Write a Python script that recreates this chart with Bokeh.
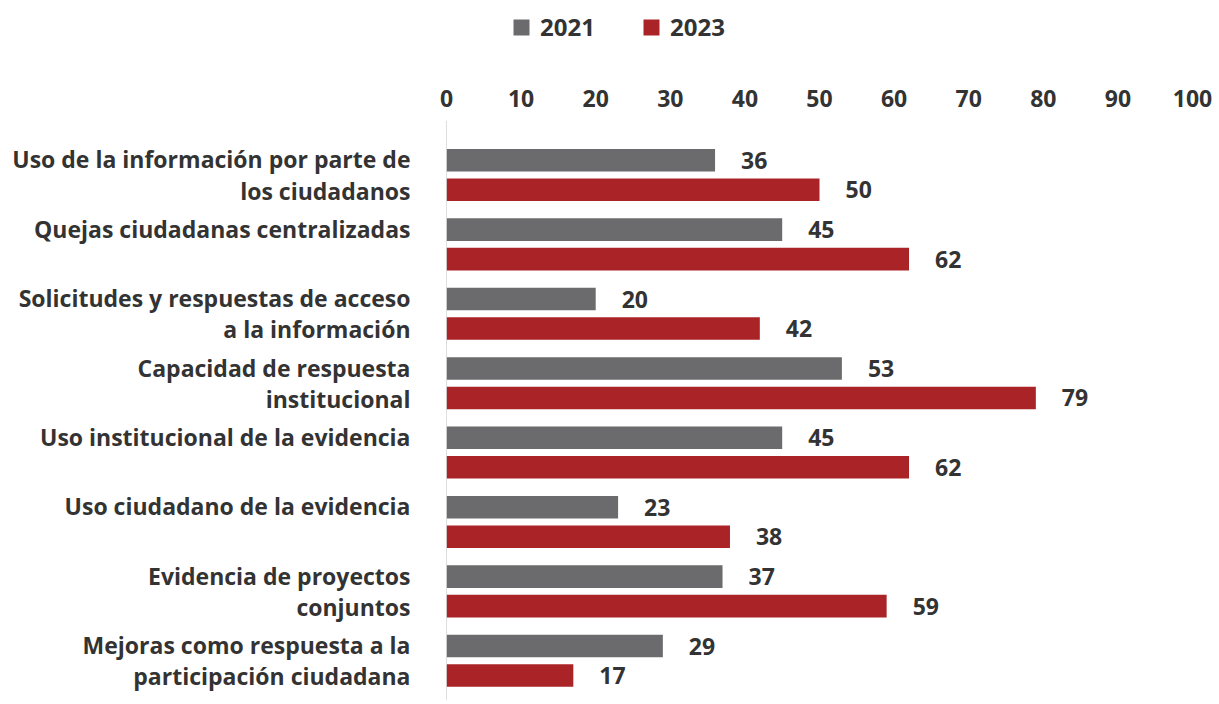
from bokeh.plotting import figure
from bokeh.layouts import column
from bokeh.models import (Range1d, FixedTicker, Span, Legend, LegendItem,
                          ColumnDataSource, LabelSet)
from bokeh.embed import file_html
from bokeh.resources import INLINE
from bokeh.core.properties import value

categories = [
    "Uso de la información por parte de\nlos ciudadanos",
    "Quejas ciudadanas centralizadas",
    "Solicitudes y respuestas de acceso\na la información",
    "Capacidad de respuesta\ninstitucional",
    "Uso institucional de la evidencia",
    "Uso ciudadano de la evidencia",
    "Evidencia de proyectos\nconjuntos",
    "Mejoras como respuesta a la\nparticipación ciudadana",
]
values_2021 = [36, 45, 20, 53, 45, 23, 37, 29]
values_2023 = [50, 62, 42, 79, 62, 38, 59, 17]
series_names = ["2021", "2023"]
x_ticks = [0, 10, 20, 30, 40, 50, 60, 70, 80, 90, 100]

GRAY = "#6b6b6d"
RED = "#aa2327"
TEXT = "#333333"
FONT = "Open Sans"

rows = list(range(len(categories)))
OFF = 0.2125
BAR_H = 0.325

W = 1215
LH = 80
MH = 620
LEFT = 446
RIGHT = 23

src_a = ColumnDataSource(dict(y=[r - OFF for r in rows], v=values_2021,
                              t=[str(v) for v in values_2021]))
src_b = ColumnDataSource(dict(y=[r + OFF for r in rows], v=values_2023,
                              t=[str(v) for v in values_2023]))

# ---------- legend strip ----------
lf = figure(width=W, height=LH, output_backend="svg", toolbar_location=None,
            x_axis_location=None, y_axis_location=None,
            x_range=Range1d(0, 1), y_range=Range1d(0, 1),
            min_border_left=LEFT, min_border_right=RIGHT,
            min_border_top=0, min_border_bottom=0)
lf.outline_line_color = None
lf.grid.visible = False
d1 = lf.hbar(y=[-10], right=[1], left=0, height=0.5, fill_color=GRAY, line_color=None)
d2 = lf.hbar(y=[-10], right=[1], left=0, height=0.5, fill_color=RED, line_color=None)
legend = Legend(items=[LegendItem(label=series_names[0], renderers=[d1]),
                       LegendItem(label=series_names[1], renderers=[d2])],
                orientation="horizontal", location=(65, 37),
                glyph_width=20, glyph_height=20, label_standoff=9,
                label_width=55, spacing=46, padding=0, margin=0,
                border_line_color=None, background_fill_alpha=0,
                label_text_font=FONT, label_text_font_style="bold",
                label_text_font_size="24px", label_text_color=TEXT)
lf.add_layout(legend, "center")

# ---------- main chart ----------
p = figure(width=W, height=MH, output_backend="svg", toolbar_location=None,
           x_range=Range1d(0, 100), y_range=Range1d(7.572, -0.785),
           x_axis_location="above",
           min_border_left=LEFT, min_border_right=RIGHT,
           min_border_top=40, min_border_bottom=0)
p.outline_line_color = None
p.grid.visible = False

p.hbar(y="y", right="v", left=0, height=BAR_H, source=src_a,
       fill_color=GRAY, line_color=None)
p.hbar(y="y", right="v", left=0, height=BAR_H, source=src_b,
       fill_color=RED, line_color=None)

xa = p.xaxis[0]
xa.ticker = FixedTicker(ticks=x_ticks)
xa.axis_line_color = None
xa.major_tick_line_color = None
xa.minor_tick_line_color = None
xa.major_label_text_font = FONT
xa.major_label_text_font_style = "bold"
xa.major_label_text_font_size = "23px"
xa.major_label_text_color = TEXT
xa.major_label_standoff = 8

ya = p.yaxis[0]
ya.ticker = FixedTicker(ticks=rows)
ya.major_label_overrides = {
    r: (c if "\n" in c else c + "\n ") for r, c in zip(rows, categories)
}
ya.axis_line_color = None
ya.major_tick_line_color = None
ya.minor_tick_line_color = None
ya.major_label_text_font = FONT
ya.major_label_text_font_style = "bold"
ya.major_label_text_font_size = "23px"
ya.major_label_text_color = TEXT
ya.major_label_text_line_height = 0.97
ya.major_label_standoff = 30

p.add_layout(Span(location=0, dimension="height", line_color="#bdbdbd",
                  line_width=1))

for s in (src_a, src_b):
    p.add_layout(LabelSet(x="v", y="y", text="t", source=s, x_offset=26,
                          text_baseline="middle", text_align="left",
                          text_font=value(FONT), text_font_style="bold",
                          text_font_size="23px", text_color=TEXT))

layout = column(lf, p, spacing=0)
open("out.html", "w").write(file_html(layout, INLINE))
